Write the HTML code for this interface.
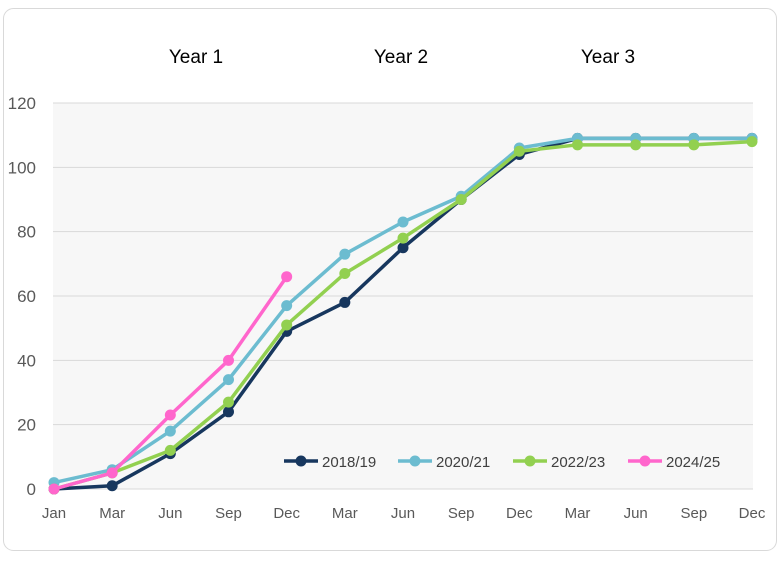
<!DOCTYPE html>
<html><head><meta charset="utf-8"><style>
body{margin:0;background:#fff;width:782px;height:558px;overflow:hidden}
svg text{font-family:"Liberation Sans",sans-serif}
</style></head><body>
<svg width="782" height="558">
<rect x="3.5" y="8.5" width="773" height="542" rx="10" fill="#fff" stroke="#d9d9d9"/>
<rect x="53" y="103" width="700" height="386" fill="#f7f7f7"/>
<g id="grid"></g>
<g id="yt"></g>
<g id="xt"></g>
<g font-size="19" text-anchor="middle" fill="#000">
<text x="196" y="63">Year 1</text>
<text x="401" y="63">Year 2</text>
<text x="608" y="63">Year 3</text>
</g>
<g id="series"></g>
<g id="legend"></g>
</svg>
<script>
const categories=["Jan","Mar","Jun","Sep","Dec","Mar","Jun","Sep","Dec","Mar","Jun","Sep","Dec"];
const yTicks=[0,20,40,60,80,100,120];
const seriesNames=["2018/19","2020/21","2022/23","2024/25"];
const seriesColors=["#17375e","#6cbcd0","#92d050","#ff66cc"];
const s2018=[0,1,11,24,49,58,75,90,104,109,109,109,109];
const s2020=[2,6,18,34,57,73,83,91,106,109,109,109,109];
const s2022=[0,5,12,27,51,67,78,90,105,107,107,107,108];
const s2024=[0,5,23,40,66];
const seriesData=[s2018,s2020,s2022,s2024];
const NS="http://www.w3.org/2000/svg";
const x=i=>54+i*(752-54)/(categories.length-1);
const y=v=>489-v*(489-103)/120;
function mk(t,a,p){const e=document.createElementNS(NS,t);for(const k in a)e.setAttribute(k,a[k]);p.appendChild(e);return e;}
const grid=document.getElementById('grid'),yt=document.getElementById('yt'),xt=document.getElementById('xt');
yTicks.forEach(v=>{
 const l=mk('line',{x1:53,x2:753,y1:y(v),y2:y(v),stroke:'#d9d9d9','stroke-width':1},grid);
 
 
 const t=mk('text',{x:36,y:y(v)+6,'text-anchor':'end','font-size':17,fill:'#595959'},yt);
 t.textContent=v;
 
 
});
categories.forEach((c,i)=>{
 const t=mk('text',{x:x(i),y:518,'text-anchor':'middle','font-size':15,fill:'#595959'},xt);
 t.textContent=c;
 
 
});
const sg=document.getElementById('series');
seriesData.forEach((d,si)=>{
 const g=mk('g',{},sg);
 
 
 const pl=mk('polyline',{points:d.map((v,i)=>x(i)+','+y(v)).join(' '),fill:'none',stroke:seriesColors[si],'stroke-width':3.5,'stroke-linejoin':'round'},g);
 
 
 d.forEach((v,i)=>{
  const c=mk('circle',{cx:x(i),cy:y(v),r:5.5,fill:seriesColors[si]},g);
  
  
 });
});
const lg=document.getElementById('legend');
const lx=[284,398,513,628];
seriesNames.forEach((n,i)=>{
 const g=mk('g',{},lg);
 
 
 mk('line',{x1:lx[i],x2:lx[i]+34,y1:461,y2:461,stroke:seriesColors[i],'stroke-width':3.5},g);
 mk('circle',{cx:lx[i]+17,cy:461,r:5.5,fill:seriesColors[i]},g);
 const t=mk('text',{x:lx[i]+38,y:467,'font-size':15,fill:'#404040'},g);
 t.textContent=n;
});
</script>
</body></html>
